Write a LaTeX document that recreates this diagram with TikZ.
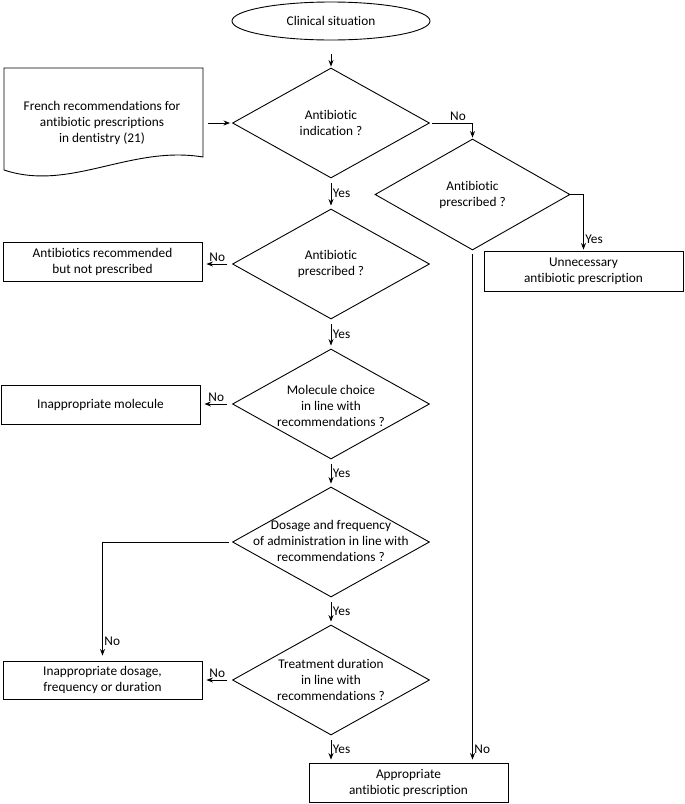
\documentclass[tikz,border=0pt]{standalone}
\usepackage{fontspec}
\setmainfont{Carlito}[Ligatures=CommonOff]
\usetikzlibrary{shapes.geometric,arrows.meta}
\begin{document}
\begin{tikzpicture}[x=1pt,y=-1pt,
  font=\fontsize{13.3}{16}\selectfont,
  lw/.style={line width=0.9pt},
  box/.style={draw, lw, minimum width=199pt, minimum height=39pt, inner sep=0pt, align=center},
  dia/.style={draw, lw, diamond, minimum width=197pt, minimum height=110pt, inner sep=0pt},
  txt/.style={align=center, inner sep=0pt},
  arr/.style={lw, -{Stealth[length=6.5pt,width=5pt]}},
  lab/.style={inner sep=1.5pt}]
\useasboundingbox (0,0) rectangle (685,804);
\fill[white] (0,0) rectangle (685,804);

% start
\node[draw, lw, ellipse, minimum width=198pt, minimum height=38pt, inner sep=0pt] (e) at (331,21) {Clinical situation};

% document shape
\draw[lw] (4,68) -- (203,68) -- (203,157) .. controls (130,145) and (70,192) .. (4,170) -- cycle;
\node[txt] (doc) at (102,123) {French recommendations for\\antibiotic prescriptions\\in dentistry (21)};
\coordinate (docR) at (203,123);

% diamonds
\node[dia] (d1) at (331,123) {};
\node[txt] at (d1) {Antibiotic\\indication ?};
\node[dia, minimum width=195pt, minimum height=111pt] (d2) at (472.5,194.5) {};
\node[txt] at (d2) {Antibiotic\\prescribed ?};
\node[dia] (d3) at (331,264) {};
\node[txt] at (d3) {Antibiotic\\prescribed ?};
\node[dia] (d4) at (331,404) {};
\node[txt] at ([yshift=-2pt]d4.center) {Molecule choice\\in line with\\recommendations ?};
\node[dia] (d5) at (331,542) {};
\node[txt] at ([yshift=1pt]d5.center) {Dosage and frequency\\of administration in line with\\recommendations ?};
\node[dia] (d6) at (331,680) {};
\node[txt] at (d6) {Treatment duration\\in line with\\recommendations ?};

% result boxes
\node[box, minimum height=40pt] (u) at (583.5,271) {Unnecessary\\antibiotic prescription};
\node[box] (b1) at (102.5,261.5) {Antibiotics recommended\\but not prescribed};
\node[box] (b2) at (100.5,404.5) {Inappropriate molecule};
\node[box, minimum height=38pt] (b3) at (102.5,680) {Inappropriate dosage,\\frequency or duration};
\node[box] (ap) at (408.5,782.5) {Appropriate\\antibiotic prescription};

% connectors
\draw[arr, shorten <=14pt, shorten >=1pt] (e.south) -- (d1.north);
\draw[arr, shorten <=5pt, shorten >=2pt] (docR) -- (d1.west);
\draw[arr, shorten <=2pt, shorten >=1pt] (d1.east) -| node[lab, pos=0.33, above] {No} (d2.north);
\draw[arr, shorten >=1pt] (d2.east) -| node[lab, pos=0.9, right] {Yes} (u.north);
\draw[arr, shorten <=4pt, shorten >=3pt] (d2.south) -- node[lab, pos=0.975, right] {No} (d2.south |- ap.north);

\draw[arr, shorten <=5pt, shorten >=3pt] (d1.south) -- node[lab, midway, right] {Yes} (d3.north);
\draw[arr, shorten <=5pt, shorten >=4pt] (d3.west) -- node[lab, midway, above] {No} (d3.west -| b1.east);
\draw[arr, shorten <=5pt, shorten >=3pt] (d3.south) -- node[lab, midway, right] {Yes} (d4.north);
\draw[arr, shorten <=5pt, shorten >=4pt] (d4.west) -- node[lab, midway, above] {No} (d4.west -| b2.east);
\draw[arr, shorten <=5pt, shorten >=3pt] (d4.south) -- node[lab, midway, right] {Yes} (d5.north);
\draw[arr, shorten <=3pt, shorten >=5pt] (d5.west) -| node[lab, pos=0.92, right] {No} (b3.north);
\draw[arr, shorten <=5pt, shorten >=3pt] (d5.south) -- node[lab, midway, right] {Yes} (d6.north);
\draw[arr, shorten <=5pt, shorten >=4pt] (d6.west) -- node[lab, midway, above] {No} (d6.west -| b3.east);
\draw[arr, shorten <=5pt, shorten >=3pt] (d6.south) -- node[lab, midway, right] {Yes} (d6.south |- ap.north);
\end{tikzpicture}
\end{document}
